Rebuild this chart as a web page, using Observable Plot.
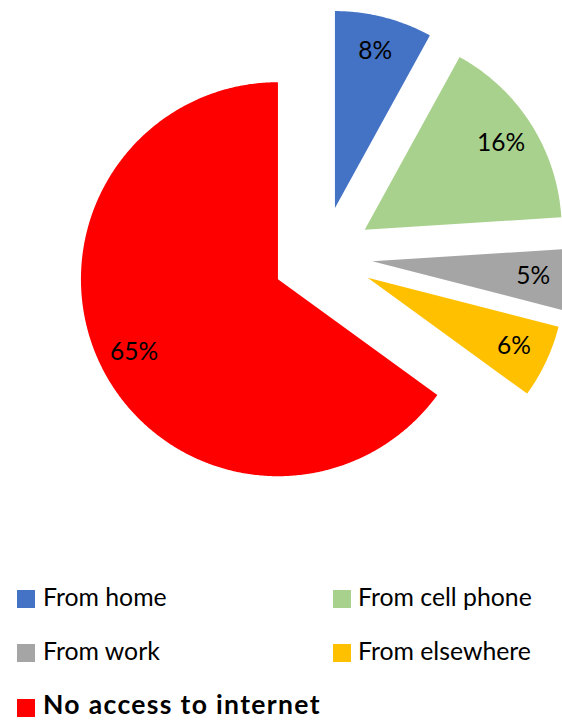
<!DOCTYPE html>
<html>
<head>
<meta charset="utf-8">
<script src="https://cdn.jsdelivr.net/npm/d3@7"></script>
<script src="https://cdn.jsdelivr.net/npm/@observablehq/plot@0.6"></script>
<style>
  html, body { margin: 0; padding: 0; background: #fff; }
  #wrap { position: relative; width: 562px; height: 721px; font-family: Lato, "Open Sans", sans-serif; }
  #legend { position: relative; width: 562px; height: 161px; }
  .sw { position: absolute; width: 18px; height: 18px; }
  .lbl { position: absolute; white-space: nowrap; font-size: 24.8px; line-height: 1; color: #000; }
  .lbl.bold { font-weight: 700; font-size: 26.5px; letter-spacing: 1.35px; }
</style>
</head>
<body>
<div id="wrap">
  <div id="chart"></div>
  <div id="legend"></div>
</div>
<script>
const categories = ["From home", "From cell phone", "From work", "From elsewhere", "No access to internet"];
const shares = [8, 16, 5, 6, 65];
const colors = ["#4472C4", "#A9D18E", "#A5A5A5", "#FFC000", "#FF0000"];
const legendOrder = ["From home", "From cell phone", "From work", "From elsewhere", "No access to internet"];

// layout
const W = 562, H = 560;
const cx = 322, cy = 256, R = 197;
const explode = 50 / R;
const labelPos = 0.82;

const total = d3.sum(shares);
let acc = 0;
const slices = shares.map((v, i) => {
  const a0 = acc / total * 2 * Math.PI;
  acc += v;
  const a1 = acc / total * 2 * Math.PI;
  const mid = (a0 + a1) / 2;
  return {key: categories[i], value: v, a0, a1, mid,
          ox: explode * Math.sin(mid), oy: -explode * Math.cos(mid)};
});

const pts = [];
for (const s of slices) {
  pts.push({key: s.key, x: s.ox, y: s.oy});
  const n = Math.max(2, Math.ceil((s.a1 - s.a0) / (Math.PI / 360)));
  for (let k = 0; k <= n; k++) {
    const a = s.a0 + (s.a1 - s.a0) * k / n;
    pts.push({key: s.key, x: s.ox + Math.sin(a), y: s.oy - Math.cos(a)});
  }
}
const labels = slices.map(s => ({
  key: s.key,
  text: Math.round(s.value / total * 100) + "%",
  x: s.ox + labelPos * Math.sin(s.mid),
  y: s.oy - labelPos * Math.cos(s.mid)
}));

const chart = Plot.plot({
  width: W, height: H,
  marginTop: 0, marginRight: 0, marginBottom: 0, marginLeft: 0,
  style: {fontFamily: "Lato, 'Open Sans', sans-serif", background: "#fff"},
  x: {domain: [-1, 1], range: [cx - R, cx + R], axis: null},
  y: {domain: [-1, 1], range: [cy - R, cy + R], axis: null},
  color: {domain: categories, range: colors},
  marks: [
    Plot.line(pts, {x: "x", y: "y", z: "key", fill: "key", stroke: "none", curve: "linear-closed"}),
    Plot.text(labels, {x: "x", y: "y", text: "text", fill: "#000", fontSize: 24.5})
  ]
});
document.getElementById("chart").appendChild(chart);

// legend (HTML, below the SVG)
const legend = document.getElementById("legend");
const colOf = k => colors[categories.indexOf(k)];
const swTops = [30, 84, 139];
const txTops = [24.7, 78.7, 131.2];
const colSw = [17, 333];
const colTx = [43, 358];
legendOrder.forEach((k, i) => {
  const row = Math.floor(i / 2), col = i % 2;
  const sw = document.createElement("div");
  sw.className = "sw";
  sw.style.left = colSw[col] + "px";
  sw.style.top = swTops[row] + "px";
  sw.style.background = colOf(k);
  legend.appendChild(sw);
  const t = document.createElement("div");
  t.className = "lbl" + (k === "No access to internet" ? " bold" : "");
  t.style.left = colTx[col] + "px";
  t.style.top = txTops[row] + "px";
  t.textContent = k;
  legend.appendChild(t);
});
</script>
</body>
</html>
